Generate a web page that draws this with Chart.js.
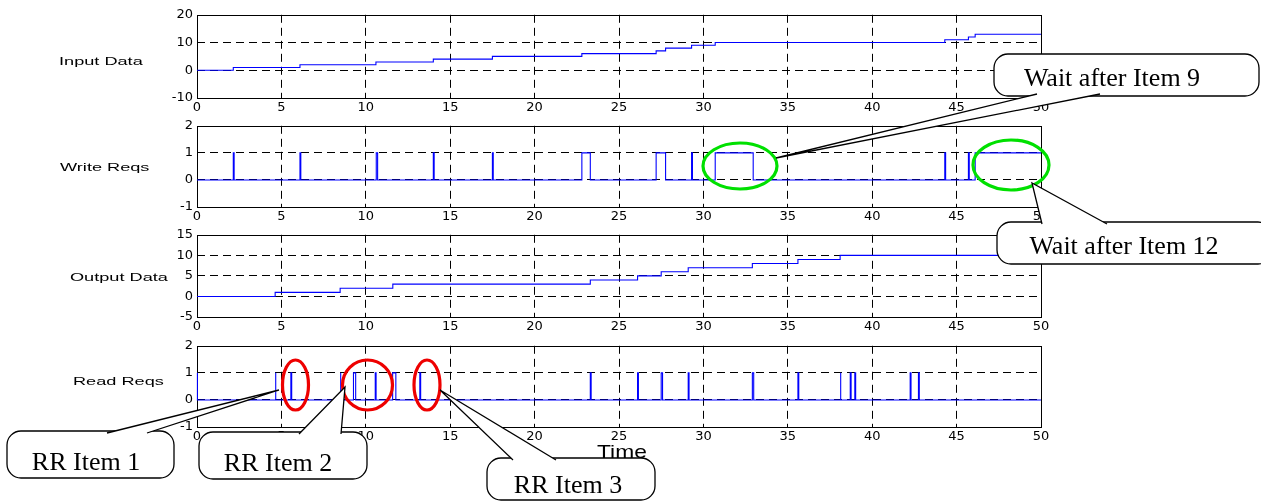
<!DOCTYPE html>
<html>
<head>
<meta charset="utf-8">
<script src="https://cdn.jsdelivr.net/npm/chart.js@4/dist/chart.umd.min.js"></script>
<style>
    body { margin: 0; background: #fff; }
    #page { position: relative; width: 1261px; height: 501px; overflow: hidden; background: #fff; }
    #page canvas { position: absolute; left: 0; }
    .ylab, .xlab {
        position: absolute;
        font-family: "Liberation Sans", Arial, sans-serif;
        color: #000;
        white-space: nowrap;
        transform-origin: left center;
    }
    .ylab { font-size: 11px; line-height: 13px; transform: scaleX(1.65); }
    .xlab { font-size: 19px; line-height: 22px; transform: scaleX(1.2); }
    #notes { position: absolute; left: 0; top: 0; pointer-events: none; }
    #notes text { font-family: "Liberation Serif", "Times New Roman", serif; font-size: 26px; }
</style>
</head>
<body>
<div id="page"></div>

<script>
// data (time in the same units as the x axis)
const xTicks = [0, 5, 10, 15, 20, 25, 30, 35, 40, 45, 50];
const timeEnd = 50;

const inputStepTimes = [2.15, 6.1, 10.6, 14.0, 17.5, 22.8, 27.2, 27.76, 29.3, 30.7, 44.3, 45.7, 46.1];
const inputStepValues = [1, 2, 3, 4, 5, 6, 7, 8, 9, 10, 11, 12, 13];
const inputYTicks = [-10, 0, 10, 20];

const writePulseStarts = [2.15, 6.1, 10.62, 14.0, 17.5, 22.8, 27.2, 29.3, 30.7, 44.3, 45.7, 46.1];
const writePulseEnds = [2.2, 6.15, 10.7, 14.05, 17.55, 23.3, 27.76, 29.35, 32.95, 44.35, 45.75, 50];
const writeYTicks = [-1, 0, 1, 2];

const outputStepTimes = [4.63, 8.48, 11.6, 23.3, 26.1, 27.5, 29.1, 32.9, 35.6, 38.1];
const outputStepValues = [1, 2, 3, 4, 5, 6, 7, 8, 9, 10];
const outputYTicks = [-5, 0, 5, 10, 15];

const readPulseStarts = [0, 4.63, 5.56, 8.48, 9.27, 10.56, 11.59, 13.2, 23.3, 26.1, 27.5, 29.1, 32.9, 35.6, 38.1, 38.7, 38.97, 42.25, 42.74];
const readPulseEnds = [0.05, 4.68, 5.61, 8.53, 9.4, 10.61, 11.78, 13.25, 23.35, 26.15, 27.58, 29.15, 32.98, 35.65, 38.15, 38.75, 39.02, 42.3, 42.79];
const readYTicks = [-1, 0, 1, 2];

function stepPoints(times, values) {
    const pts = [{ x: 0, y: 0 }];
    times.forEach((t, i) => {
        pts.push({ x: t, y: i ? values[i - 1] : 0 });
        pts.push({ x: t, y: values[i] });
    });
    pts.push({ x: timeEnd, y: values[values.length - 1] });
    return pts;
}

function pulsePoints(starts, ends) {
    const pts = [{ x: 0, y: 0 }];
    starts.forEach((s, i) => {
        pts.push({ x: s, y: 0 }, { x: s, y: 1 }, { x: ends[i], y: 1 });
        if (ends[i] < timeEnd) pts.push({ x: ends[i], y: 0 });
    });
    if (ends[ends.length - 1] < timeEnd) pts.push({ x: timeEnd, y: 0 });
    return pts;
}

// box round the plot area, drawn under the line so pulses at t=0 stay blue
const framePlugin = {
    id: 'frame',
    beforeDatasetsDraw(chart) {
        const { ctx, chartArea: a } = chart;
        ctx.save();
        ctx.strokeStyle = '#000';
        ctx.lineWidth = 1;
        const l = Math.round(a.left) + 0.5, t = Math.round(a.top) + 0.5;
        ctx.strokeRect(l, t, Math.round(a.right) - Math.round(a.left), Math.round(a.bottom) - Math.round(a.top));
        ctx.restore();
    },
};

Chart.defaults.font.family = '"DejaVu Sans", sans-serif';
Chart.defaults.font.size = 13;
Chart.defaults.color = '#000';

// dashed grid only inside the box, the edges are the frame
function gridFor(min, max) {
    return {
        color: (c) => (c.tick && (c.tick.value === min || c.tick.value === max)) ? 'rgba(0,0,0,0)' : '#000',
        lineWidth: 1,
        drawTicks: false,
    };
}
const borderStyle = { display: false, dash: [8, 5] };

const panels = [
    { label: 'Input Data', labelLeft: 59, labelY: 61, top: 13, bottom: 98, min: -10, max: 20, ticks: inputYTicks, points: stepPoints(inputStepTimes, inputStepValues) },
    { label: 'Write Reqs', labelLeft: 60, labelY: 167, top: 124, bottom: 207, min: -1, max: 2, ticks: writeYTicks, points: pulsePoints(writePulseStarts, writePulseEnds) },
    { label: 'Output Data', labelLeft: 70, labelY: 277, top: 233, bottom: 317, min: -5, max: 15, ticks: outputYTicks, points: stepPoints(outputStepTimes, outputStepValues) },
    { label: 'Read Reqs', labelLeft: 73, labelY: 381, top: 344, bottom: 427, min: -1, max: 2, ticks: readYTicks, points: pulsePoints(readPulseStarts, readPulseEnds) },
];

const page = document.getElementById('page');

panels.forEach((p) => {
    const canvas = document.createElement('canvas');
    canvas.width = 1261;
    canvas.height = p.bottom - p.top + 30;
    canvas.style.top = (p.top - 10) + 'px';
    page.appendChild(canvas);

    const lab = document.createElement('div');
    lab.className = 'ylab';
    lab.textContent = p.label;
    lab.style.left = p.labelLeft + 'px';
    lab.style.top = (p.labelY - 6.5) + 'px';
    page.appendChild(lab);

    new Chart(canvas.getContext('2d'), {
        type: 'line',
        data: {
            datasets: [{
                data: p.points,
                borderColor: '#0000ff',
                borderWidth: 1.1,
                pointRadius: 0,
                tension: 0,
                fill: false,
                clip: 3,
            }],
        },
        options: {
            responsive: false,
            animation: false,
            devicePixelRatio: 1,
            layout: { padding: { top: 10, right: 220, bottom: 0, left: 0 } },
            plugins: { legend: { display: false }, tooltip: { enabled: false } },
            scales: {
                x: {
                    type: 'linear',
                    min: 0,
                    max: timeEnd,
                    afterBuildTicks: (s) => { s.ticks = xTicks.map((v) => ({ value: v })); },
                    afterFit: (s) => { s.height = 20; },
                    grid: gridFor(0, timeEnd),
                    border: borderStyle,
                    ticks: { padding: 2, autoSkip: false, maxRotation: 0, minRotation: 0 },
                },
                y: {
                    type: 'linear',
                    min: p.min,
                    max: p.max,
                    afterBuildTicks: (s) => { s.ticks = p.ticks.map((v) => ({ value: v })); },
                    afterFit: (s) => { s.width = 197; },
                    grid: gridFor(p.min, p.max),
                    border: borderStyle,
                    ticks: { padding: 4, autoSkip: false },
                },
            },
        },
        plugins: [framePlugin],
    });
});

const timeLab = document.createElement('div');
timeLab.className = 'xlab';
timeLab.textContent = 'Time';
timeLab.style.left = '597px';
timeLab.style.top = '441px';
page.appendChild(timeLab);

// annotations laid over the figure
function callout(x, y, w, h, b1, b2, tip, text, tx, ty) {
    return `
        <rect x="${x}" y="${y}" width="${w}" height="${h}" rx="14" ry="14" fill="#fff" stroke="#000" stroke-width="1.3"/>
        <polygon points="${b1.join(',')} ${tip.join(',')} ${b2.join(',')}" fill="#fff" stroke="none"/>
        <polyline points="${b1.join(',')} ${tip.join(',')} ${b2.join(',')}" fill="none" stroke="#000" stroke-width="1.3"/>
        <text x="${tx}" y="${ty}" text-anchor="middle" dominant-baseline="central">${text}</text>
    `;
}

function ring(cx, cy, rx, ry, color) {
    return `<ellipse cx="${cx}" cy="${cy}" rx="${rx}" ry="${ry}" fill="none" stroke="${color}" stroke-width="3.2"/>`;
}

const green = '#00e000';
const red = '#ee0000';

const notes = `
<svg id="notes" width="1261" height="501" xmlns="http://www.w3.org/2000/svg">
    ${ring(740, 166, 37, 23, green)}
    ${ring(1011, 165, 38, 25, green)}
    ${ring(295.5, 385, 13, 25, red)}
    ${ring(367.5, 385, 25, 25, red)}
    ${ring(427, 385, 13, 25, red)}
    ${callout(994, 54, 265, 42, [1037, 94], [1100, 94], [776, 158], 'Wait after Item 9', 1112, 77)}
    ${callout(997, 222, 275, 42, [1042, 224], [1107, 224], [1032, 183], 'Wait after Item 12', 1124, 245)}
    ${callout(7, 431, 167, 47, [107, 433], [147, 433], [279, 390], 'RR Item 1', 86, 461)}
    ${callout(199, 432, 168, 47, [299, 434], [341, 434], [345, 387], 'RR Item 2', 278, 462)}
    ${callout(487, 458, 168, 42, [513, 460], [556, 460], [440, 390], 'RR Item 3', 568, 484)}
</svg>`;
page.insertAdjacentHTML('beforeend', notes);
</script>
</body>
</html>
